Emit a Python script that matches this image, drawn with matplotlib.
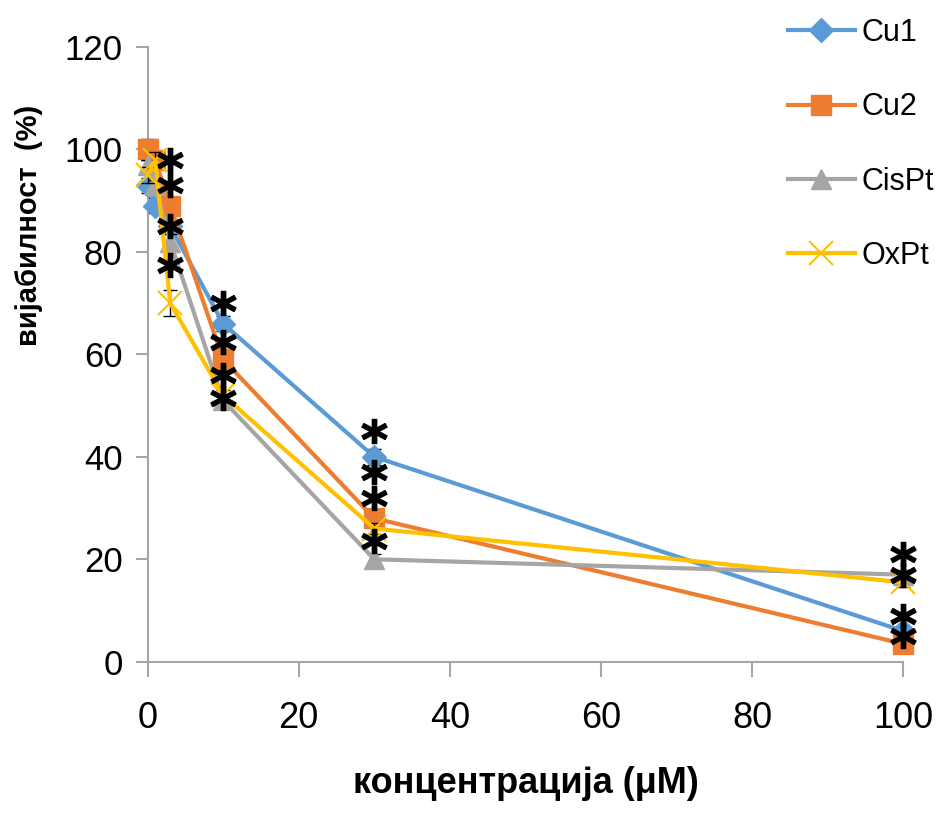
"""Вијабилност ћелија у зависности од концентрације (Cu1, Cu2, CisPt, OxPt)."""
import matplotlib
matplotlib.use("Agg")
import matplotlib.pyplot as plt

conc = [0, 1, 3, 10, 30, 100]

cu1 = [93, 89, 85, 66, 40, 6]
cu2 = [100, 98, 89, 59, 28, 3.5]
cispt = [97, 93, 82, 51, 20, 17]
oxpt = [95, 98, 70, 52, 26, 15.5]

cu1_err = [1.5, 1.5, 1.5, 1.5, 1.5, 1]
cu2_err = [2, 1.5, 1.5, 2, 1.5, 1]
cispt_err = [1, 1, 1.5, 1, 1, 1]
oxpt_err = [1.5, 1.5, 2.5, 1, 1, 1]

labels = ["Cu1", "Cu2", "CisPt", "OxPt"]
colors = ["#5B9BD5", "#ED7D31", "#A5A5A5", "#FFC000"]

# звездице (статистичка значајност)
star_x = [3, 3, 3, 3, 10, 10, 10, 10, 30, 30, 30, 30, 100, 100, 100, 100]
star_y = [98, 93, 85, 77.5, 70, 62.5, 56, 51.5, 45, 37, 32, 23.5, 21, 17, 9, 5]

xticks = [0, 20, 40, 60, 80, 100]
yticks = [0, 20, 40, 60, 80, 100, 120]

FONT = ["Liberation Sans", "DejaVu Sans"]
GREY = "#A6A6A6"


def main():
    fig = plt.figure(figsize=(9.4, 8.17), dpi=100)
    ax = fig.add_axes([0.157, 0.19, 0.804, 0.7525])

    series = [cu1, cu2, cispt, oxpt]
    errs = [cu1_err, cu2_err, cispt_err, oxpt_err]
    markers = ["D", "s", "^", "x"]
    msizes = [12, 15, 15, 17]
    mews = [1, 1, 1, 1.5]
    for i, (ys, err) in enumerate(zip(series, errs)):
        ax.errorbar(conc, ys, yerr=err, fmt="none", ecolor="black",
                    elinewidth=1, capsize=5, zorder=2 + i, clip_on=False)
        ax.plot(conc, ys, color=colors[i], lw=3, marker=markers[i],
                ms=msizes[i], mew=mews[i], mfc=colors[i], mec=colors[i],
                label=labels[i], zorder=3 + i, clip_on=False)

    ax.plot(star_x, star_y, ls="none", marker=r"$\mathbf{*}$", ms=18,
            color="black", zorder=10, clip_on=False)

    ax.set_xlim(0, 100)
    ax.set_ylim(0, 120)
    ax.set_xticks(xticks)
    ax.set_yticks(yticks)
    ax.set_xticklabels([str(t) for t in xticks], family=FONT, fontsize=26)
    ax.set_yticklabels([str(t) for t in yticks], family=FONT, fontsize=25)

    for s in ["top", "right"]:
        ax.spines[s].set_visible(False)
    for s in ["left", "bottom"]:
        ax.spines[s].set_color(GREY)
        ax.spines[s].set_linewidth(1.5)
    ax.tick_params(axis="y", direction="out", length=9, width=1.5,
                   color=GREY, pad=9)
    ax.tick_params(axis="x", direction="out", length=11, width=1.5,
                   color=GREY, pad=17)

    ax.set_xlabel("концентрација (μM)", family=FONT, fontsize=26,
                  fontweight="bold")
    ax.xaxis.set_label_coords(0.5, -0.17)
    ax.set_ylabel("вијабилност  (%)", family=FONT, fontsize=21,
                  fontweight="bold")
    ax.yaxis.set_label_coords(-0.139, 0.71)

    leg = ax.legend(loc="upper left", bbox_to_anchor=(0.838, 0.978),
                    bbox_transform=fig.transFigure, frameon=False,
                    prop={"family": FONT, "size": 22}, handlelength=2.2,
                    handletextpad=0.2, labelspacing=1.45, borderpad=0,
                    borderaxespad=0)
    leg.set_zorder(20)

    fig.savefig("out.png", dpi=100)


if __name__ == "__main__":
    main()
